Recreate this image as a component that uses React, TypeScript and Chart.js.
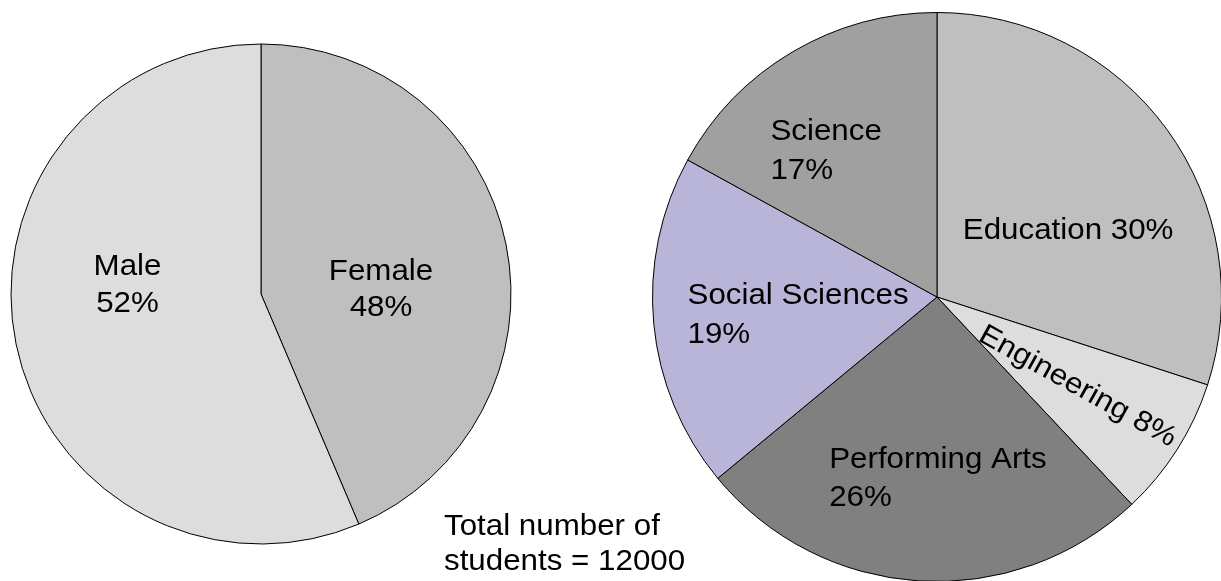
import { useEffect, useRef } from "react";
import { Chart, registerables } from "chart.js";

Chart.register(...registerables);

// ---- data ----
const genderCategories = ["Female", "Male"];
const genderShares = [43.6, 56.4]; // slice sizes as drawn
const genderLabelText = ["48%", "52%"];
const genderColors = ["#bfbfbf", "#dddddd"];

const facultyCategories = ["Education", "Engineering", "Performing Arts", "Social Sciences", "Science"];
const facultyShares = [30, 8, 26, 19, 17];
const facultyLabelText = ["30%", "8%", "26%", "19%", "17%"];
const facultyColors = ["#bfbfbf", "#dddddd", "#808080", "#b8b5d9", "#a0a0a0"];

const totalNote = ["Total number of", "students = 12000"];

// ---- label layout (relative to pie centre, in radius units) ----
type Place = { dx: number; dy: number; align: CanvasTextAlign; stacked: boolean; gap: number; rot?: number; mid?: boolean };

const genderPlaces: Place[] = [
  { dx: 0.48, dy: -0.056, align: "center", stacked: true, gap: 36 },
  { dx: -0.534, dy: -0.076, align: "center", stacked: true, gap: 37 },
];

const facultyPlaces: Place[] = [
  { dx: 0.0905, dy: -0.203, align: "left", stacked: false, gap: 0 },
  { dx: 0.498, dy: 0.308, align: "center", stacked: false, gap: 0, rot: 29, mid: true },
  { dx: -0.379, dy: 0.6, align: "left", stacked: true, gap: 38 },
  { dx: -0.877, dy: 0.0246, align: "left", stacked: true, gap: 39 },
  { dx: -0.5856, dy: -0.5528, align: "left", stacked: true, gap: 39 },
];

const notePlace = { dx: 0.732, dy: 0.964, gap: 35 };

const FONT = '29px "Liberation Sans", Arial, sans-serif';
const SX = 1.08;

function drawText(ctx: CanvasRenderingContext2D, x: number, y: number, lines: string[], align: CanvasTextAlign, gap: number, rot = 0, mid = false) {
  ctx.save();
  ctx.translate(x, y);
  if (rot) ctx.rotate((rot * Math.PI) / 180);
  ctx.scale(SX, 1);
  ctx.font = FONT;
  ctx.fillStyle = "#000";
  ctx.textAlign = align;
  ctx.textBaseline = "alphabetic";
  const off = mid ? 10.4 : 0;
  lines.forEach((l, i) => ctx.fillText(l, 0, off + i * gap));
  ctx.restore();
}

function makeLabelPlugin(cats: string[], texts: string[], places: Place[], note?: boolean) {
  return {
    id: "sliceLabels",
    afterDatasetsDraw(chart: any) {
      const arc = chart.getDatasetMeta(0).data[0];
      const { x, y, outerRadius } = arc.getProps(["x", "y", "outerRadius"], true);
      const ctx = chart.ctx as CanvasRenderingContext2D;
      cats.forEach((c, i) => {
        const p = places[i];
        const lines = p.stacked ? [c, texts[i]] : [c + " " + texts[i]];
        drawText(ctx, x + p.dx * outerRadius, y + p.dy * outerRadius, lines, p.align, p.gap, p.rot || 0, !!p.mid);
      });
      if (note) {
        drawText(ctx, x + notePlace.dx * outerRadius, y + notePlace.dy * outerRadius, totalNote, "left", notePlace.gap);
      }
    },
  };
}

function PieCanvas(props: {
  left: number; width: number; height: number;
  padding: { left: number; right: number; top: number; bottom: number };
  radius: number; cats: string[]; values: number[]; colors: string[];
  texts: string[]; places: Place[]; note?: boolean;
}) {
  const ref = useRef<HTMLCanvasElement | null>(null);
  useEffect(() => {
    if (!ref.current) return;
    const chart = new Chart(ref.current, {
      type: "pie",
      data: {
        labels: props.cats,
        datasets: [{
          data: props.values,
          backgroundColor: props.colors,
          borderColor: "#000",
          borderWidth: 1,
        }],
      },
      options: {
        responsive: false,
        maintainAspectRatio: false,
        animation: false,
        events: [],
        radius: props.radius,
        layout: { padding: props.padding },
        plugins: { legend: { display: false }, tooltip: { enabled: false } },
      } as any,
      plugins: [makeLabelPlugin(props.cats, props.texts, props.places, props.note)],
    });
    return () => chart.destroy();
  }, []);
  return (
    <canvas
      ref={ref}
      width={props.width}
      height={props.height}
      style={{ position: "absolute", left: props.left, top: 0, width: props.width, height: props.height }}
    />
  );
}

export default function App() {
  return (
    <div style={{ position: "fixed", left: 0, top: 0, width: 1221, height: 581, background: "#fff", overflow: "hidden" }}>
      <PieCanvas
        left={0} width={700} height={581}
        padding={{ left: 0, right: 178, top: 7, bottom: 0 }}
        radius={250}
        cats={genderCategories} values={genderShares} colors={genderColors}
        texts={genderLabelText} places={genderPlaces} note
      />
      <PieCanvas
        left={640} width={581} height={581}
        padding={{ left: 13, right: 0, top: 13, bottom: 0 }}
        radius={284.5}
        cats={facultyCategories} values={facultyShares} colors={facultyColors}
        texts={facultyLabelText} places={facultyPlaces}
      />
    </div>
  );
}
